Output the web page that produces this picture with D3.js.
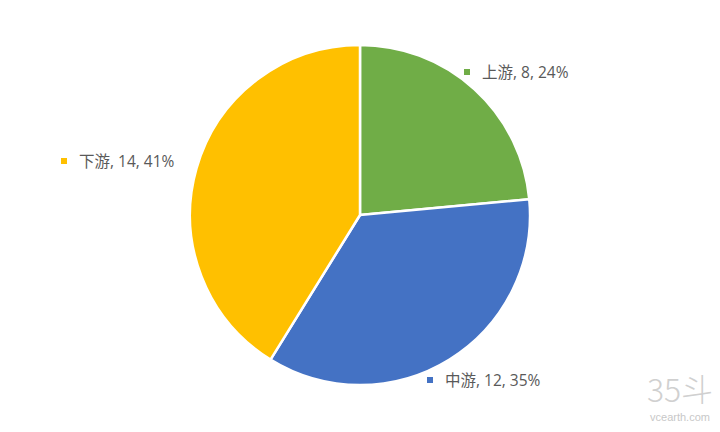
<!DOCTYPE html>
<html><head><meta charset="utf-8">
<script src="https://cdn.jsdelivr.net/npm/d3@7/dist/d3.min.js"></script>
<style>body{margin:0;background:#fff}</style>
</head><body>
<svg id="c" width="720" height="432"></svg>
<script>
const categories = ["上游", "中游", "下游"];
const values = [8, 12, 14];
const percents = ["24%", "35%", "41%"];
const colors = ["#70AD47", "#4472C4", "#FFC000"];
const labelPos = [[467, 72], [430, 380], [64, 161]];

const svg = d3.select("#c");
const cx = 360, cy = 215, r = 170;
const pie = d3.pie().sort(null).value(d => d)(values);
const arc = d3.arc().innerRadius(0).outerRadius(r);
const g = svg.append("g").attr("transform", `translate(${cx},${cy})`);
g.selectAll("path").data(pie).join("path")
  .attr("d", arc).attr("fill", (d, i) => colors[i])
  .attr("stroke", "#fff").attr("stroke-width", 2.5).attr("stroke-linejoin", "round");

const font = "'Open Sans','Noto Sans CJK SC',sans-serif";
categories.forEach((c, i) => {
  const [x, y] = labelPos[i];
  svg.append("rect").attr("x", x - 3).attr("y", y - 3).attr("width", 6).attr("height", 6).attr("fill", colors[i]);
  svg.append("text").attr("x", x + 15).attr("y", y + 6)
    .attr("font-family", font).attr("font-size", 15.5).attr("fill", "#595959")
    .text(`${c}, ${values[i]}, ${percents[i]}`);
});

svg.append("text").attr("x", 680).attr("y", 402).attr("text-anchor", "middle")
  .attr("font-family", "'Noto Sans CJK SC',sans-serif").attr("font-size", 32).attr("font-weight", 300)
  .attr("fill", "#d0d0d0").text("35斗");
svg.append("text").attr("x", 680).attr("y", 421).attr("text-anchor", "middle")
  .attr("font-family", "'Liberation Sans',sans-serif").attr("font-size", 11)
  .attr("fill", "#c8c8c8").text("vcearth.com");
</script>
</body></html>
